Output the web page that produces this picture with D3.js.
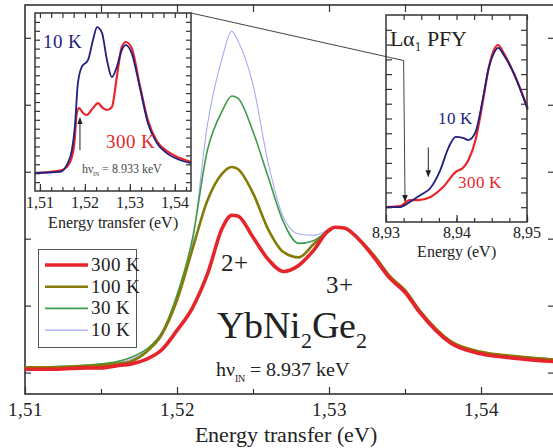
<!DOCTYPE html>
<html>
<head>
<meta charset="utf-8">
<script src="https://cdn.jsdelivr.net/npm/d3@7"></script>
<style>
  @font-face { font-family: "ChartSerif"; src: local("Liberation Serif"), local("LiberationSerif"), local("LiberationSerif-Regular"); }
  body { margin: 0; }
</style>
</head>
<body>
<script>
// main RIXS spectra (energy transfer in eV, intensity in arb. units)
var energy = [1.510, 1.512, 1.514, 1.515, 1.516, 1.517, 1.518, 1.519, 1.520, 1.521, 1.522, 1.523, 1.5236, 1.524, 1.525, 1.526, 1.527, 1.528, 1.529, 1.530, 1.5304, 1.531, 1.532, 1.533, 1.534, 1.535, 1.536, 1.538, 1.540, 1.542, 1.545];
var i300 = [0.05, 0.05, 0.07, 0.07, 0.10, 0.13, 0.20, 0.34, 0.63, 0.96, 1.47, 2.17, 2.35, 2.34, 2.02, 1.69, 1.51, 1.60, 1.83, 2.13, 2.17, 2.16, 1.98, 1.71, 1.41, 1.20, 0.89, 0.44, 0.28, 0.22, 0.16];
var i100 = [0.08, 0.08, 0.10, 0.11, 0.13, 0.17, 0.31, 0.57, 1.08, 1.83, 2.57, 2.98, 3.07, 3.04, 2.68, 2.14, 1.80, 1.72, 1.92, 2.11, 2.17, 2.16, 1.99, 1.74, 1.44, 1.23, 0.92, 0.47, 0.31, 0.25, 0.19];
var i30 = [0.08, 0.09, 0.11, 0.13, 0.16, 0.23, 0.35, 0.60, 1.16, 1.98, 3.32, 3.92, 4.13, 4.10, 3.60, 2.92, 2.25, 1.93, 1.97, 2.13, 2.17, 2.16, 1.99, 1.74, 1.44, 1.23, 0.92, 0.47, 0.31, 0.25, 0.20];
var i10 = [0.08, 0.09, 0.10, 0.12, 0.14, 0.20, 0.32, 0.54, 1.10, 1.90, 3.70, 4.72, 5.10, 4.96, 4.30, 3.13, 2.32, 2.07, 2.05, 2.14, 2.17, 2.16, 1.99, 1.74, 1.44, 1.23, 0.92, 0.47, 0.31, 0.25, 0.20];
var seriesNames = ["300 K", "100 K", "30 K", "10 K"];
var xTicks = [1.51, 1.52, 1.53, 1.54];
var yTicks = [0, 1, 2, 3, 4, 5];

// left inset (hv = 8.933 keV)
var inA_e10 = [1.5089, 1.5144, 1.5162, 1.5171, 1.5178, 1.5184, 1.5193, 1.5207, 1.5218, 1.5227, 1.5238, 1.5249, 1.5260, 1.5271, 1.5282, 1.5291, 1.5304, 1.5322, 1.5340, 1.5360, 1.5382, 1.5411, 1.5436];
var inA_i10 = [0.101, 0.107, 0.157, 0.230, 0.371, 0.596, 0.697, 0.736, 0.848, 0.921, 0.888, 0.736, 0.640, 0.697, 0.792, 0.820, 0.775, 0.584, 0.382, 0.270, 0.213, 0.174, 0.157];
var inA_e300 = [1.5089, 1.5149, 1.5167, 1.5176, 1.5182, 1.5187, 1.5196, 1.5204, 1.5218, 1.5229, 1.5240, 1.5249, 1.5260, 1.5271, 1.5282, 1.5291, 1.5304, 1.5322, 1.5340, 1.5360, 1.5382, 1.5411, 1.5436];
var inA_i300 = [0.101, 0.118, 0.163, 0.258, 0.438, 0.466, 0.438, 0.427, 0.466, 0.494, 0.466, 0.455, 0.472, 0.640, 0.809, 0.837, 0.803, 0.596, 0.399, 0.281, 0.225, 0.185, 0.163];
var inA_ticks = [1.51, 1.52, 1.53, 1.54];

// right inset (L alpha1 PFY)
var inB_e10 = [8.9300, 8.9320, 8.9334, 8.9349, 8.9363, 8.9377, 8.9389, 8.9399, 8.9409, 8.9417, 8.9427, 8.9437, 8.9446, 8.9453, 8.9459, 8.9467, 8.9481, 8.9501];
var inB_i10 = [0.072, 0.072, 0.097, 0.130, 0.164, 0.251, 0.362, 0.411, 0.406, 0.396, 0.435, 0.589, 0.749, 0.816, 0.841, 0.807, 0.720, 0.541];
var inB_e300 = [8.9300, 8.9320, 8.9334, 8.9346, 8.9363, 8.9381, 8.9399, 8.9409, 8.9417, 8.9427, 8.9437, 8.9446, 8.9453, 8.9459, 8.9467, 8.9481, 8.9501];
var inB_i300 = [0.072, 0.077, 0.106, 0.106, 0.121, 0.169, 0.242, 0.261, 0.300, 0.396, 0.575, 0.749, 0.831, 0.855, 0.816, 0.720, 0.551];
var inB_ticks = [8.93, 8.94, 8.95];

var width = 553, height = 448;
var face = 'ChartSerif, Liberation Serif, serif';
var ink = '#222';
var commaFmt = function(p) {
  return function(d) { return d3.format(p)(d).replace(".", ","); };
};

var svg = d3.select('body')
  .append('svg')
  .attr('width', width)
  .attr('height', height);

// every label gets its own font settings
function label(parent, xp, yp, size, str) {
  var t = parent.append('text')
    .attr('x', xp).attr('y', yp)
    .attr('font-family', face)
    .attr('font-size', size)
    .style('font-family', face)
    .attr('fill', ink);
  if (str) t.text(str);
  return t;
}

var defs = svg.append('defs');
defs.append('clipPath').attr('id', 'mainclip')
  .append('rect').attr('x', 25).attr('y', 5).attr('width', 532).attr('height', 389);
defs.append('marker')
  .attr('id', 'arrow')
  .attr('viewBox', '0 0 10 10')
  .attr('refX', 9).attr('refY', 5)
  .attr('markerWidth', 7).attr('markerHeight', 7)
  .attr('orient', 'auto')
  .append('path').attr('d', 'M0,1 L10,5 L0,9 z').attr('fill', ink);

// ---------- main panel ----------
var x = d3.scaleLinear().domain([1.51, 1.545]).range([25, 557]);
var y = d3.scaleLinear().domain([-0.32, 5.49]).range([394, 5]);

// axes draw only tick marks; labels are plain text from the same scale
function tickMarks(g) {
  g.attr('font-family', null).attr('font-size', null);
  g.select('.domain').remove();
  g.selectAll('.tick text').remove();
  g.selectAll('.tick line').attr('stroke', '#333').attr('stroke-width', 1.2);
}
function tickLabels(parent, scale, values, yp, size) {
  values.forEach(function(v) {
    label(parent, scale(v), yp, size, commaFmt('.2f')(v)).attr('text-anchor', 'middle');
  });
}

svg.append('g')
  .attr('transform', 'translate(0,394)')
  .call(d3.axisBottom(x).tickValues(xTicks).tickSizeInner(-7).tickSizeOuter(0))
  .call(tickMarks);
tickLabels(svg, x, xTicks, 416, 19);
svg.append('g')
  .attr('transform', 'translate(0,394)')
  .call(d3.axisBottom(x).tickValues([1.515, 1.525, 1.535]).tickSizeInner(-5).tickSizeOuter(0))
  .call(tickMarks);
svg.append('g')
  .attr('transform', 'translate(0,5)')
  .call(d3.axisTop(x).tickValues([1.515, 1.52, 1.525, 1.53, 1.535, 1.54]).tickSizeInner(-7).tickSizeOuter(0))
  .call(tickMarks);
svg.append('g')
  .attr('transform', 'translate(25,0)')
  .call(d3.axisLeft(y).tickValues(yTicks).tickSizeInner(-6).tickSizeOuter(0))
  .call(tickMarks);
svg.append('g')
  .attr('transform', 'translate(557,0)')
  .call(d3.axisRight(y).tickValues(yTicks).tickSizeInner(-9).tickSizeOuter(0))
  .call(tickMarks);

svg.append('rect')
  .attr('x', 25).attr('y', 5).attr('width', 532).attr('height', 389)
  .attr('fill', 'none').attr('stroke', '#333').attr('stroke-width', 1.6);

var colors = ['#e6242b', '#857a05', '#3f9a4a', '#a9a9f5'];
var widths = [3.6, 2.6, 1.6, 1.1];
var series = [i300, i100, i30, i10];

var line = d3.line()
  .x(function(d) { return x(d[0]); })
  .y(function(d) { return y(d[1]); })
  .curve(d3.curveMonotoneX);

var curves = svg.append('g').attr('clip-path', 'url(#mainclip)');
for (var k = series.length - 1; k >= 0; k--) {
  curves.append('path')
    .datum(d3.zip(energy, series[k]))
    .attr('d', line)
    .attr('fill', 'none')
    .attr('stroke', colors[k])
    .attr('stroke-width', widths[k])
    .attr('stroke-linejoin', 'round');
}

// legend
svg.append('rect').attr('x', 38.5).attr('y', 249.5).attr('width', 98).attr('height', 98)
  .attr('fill', '#fff').attr('stroke', '#555').attr('stroke-width', 1);
seriesNames.forEach(function(name, k) {
  var ly = 265 + k * 21.7;
  svg.append('line').attr('x1', 45).attr('x2', 88).attr('y1', ly).attr('y2', ly)
    .attr('stroke', colors[k]).attr('stroke-width', widths[k]);
  label(svg, 91, ly + 6, 19, name);
});

// annotations
label(svg, 221, 271, 25, '2+');
label(svg, 326, 293, 25, '3+');
var formula = label(svg, 217, 338, 38);
formula.append('tspan').text('YbNi');
formula.append('tspan').attr('dy', 10).attr('font-size', 22).text('2');
formula.append('tspan').attr('dy', -10).text('Ge');
formula.append('tspan').attr('dy', 10).attr('font-size', 22).text('2');
var hv = label(svg, 216, 376, 20);
hv.append('tspan').text('h\u03bd');
hv.append('tspan').attr('dy', 6).attr('font-size', 10).text('IN');
hv.append('tspan').attr('dy', -6).text(' = 8.937 keV');

label(svg, 286, 442, 22, 'Energy transfer (eV)').attr('text-anchor', 'middle');

// ---------- left inset ----------
var xa = d3.scaleLinear().domain([1.5089, 1.5436]).range([35, 191]);
var ya = d3.scaleLinear().domain([0, 1]).range([191, 13]);
var insetA = svg.append('g');
insetA.append('rect').attr('x', 35).attr('y', 13).attr('width', 156).attr('height', 178)
  .attr('fill', '#fff');
var minorA = d3.range(1.51, 1.5436, 0.0025);
insetA.append('g').attr('transform', 'translate(0,191)')
  .call(d3.axisBottom(xa).tickValues(inA_ticks).tickSizeInner(-7).tickSizeOuter(0))
  .call(tickMarks);
tickLabels(insetA, xa, inA_ticks, 208, 16);
insetA.append('g').attr('transform', 'translate(0,191)')
  .call(d3.axisBottom(xa).tickValues(minorA).tickSizeInner(-4).tickSizeOuter(0))
  .call(tickMarks);
insetA.append('g').attr('transform', 'translate(0,13)')
  .call(d3.axisTop(xa).tickValues(minorA).tickSizeInner(-5).tickSizeOuter(0))
  .call(tickMarks);
var yMinorA = d3.range(0.05, 1.0, 0.05);
insetA.append('g').attr('transform', 'translate(35,0)')
  .call(d3.axisLeft(ya).tickValues(yMinorA).tickSizeInner(-5).tickSizeOuter(0))
  .call(tickMarks);
insetA.append('g').attr('transform', 'translate(191,0)')
  .call(d3.axisRight(ya).tickValues(yMinorA).tickSizeInner(-5).tickSizeOuter(0))
  .call(tickMarks);

var lineA = d3.line()
  .x(function(d) { return xa(d[0]); })
  .y(function(d) { return ya(d[1]); })
  .curve(d3.curveMonotoneX);
insetA.append('path').datum(d3.zip(inA_e300, inA_i300)).attr('d', lineA)
  .attr('fill', 'none').attr('stroke', '#e8262c').attr('stroke-width', 2.2);
insetA.append('path').datum(d3.zip(inA_e10, inA_i10)).attr('d', lineA)
  .attr('fill', 'none').attr('stroke', '#1f1f80').attr('stroke-width', 1.8);
insetA.append('rect').attr('x', 35).attr('y', 13).attr('width', 156).attr('height', 178)
  .attr('fill', 'none').attr('stroke', '#333').attr('stroke-width', 1.5);

label(insetA, 43, 48, 19, '10 K').attr('fill', '#23237e');
label(insetA, 106, 148, 19, '300 K').attr('fill', '#e8262c');
var hvA = label(insetA, 82, 173, 12).attr('fill', '#444');
hvA.append('tspan').text('h\u03bd');
hvA.append('tspan').attr('dy', 3).attr('font-size', 6).text('IN');
hvA.append('tspan').attr('dy', -3).text(' = 8.933 keV');
insetA.append('line')
  .attr('x1', xa(1.5189)).attr('x2', xa(1.5189))
  .attr('y1', ya(0.23)).attr('y2', ya(0.41))
  .attr('stroke', ink).attr('stroke-width', 1).attr('marker-end', 'url(#arrow)');
label(insetA, 113, 228, 16, 'Energy transfer (eV)').attr('text-anchor', 'middle');

// ---------- right inset ----------
var xb = d3.scaleLinear().domain([8.93, 8.95]).range([386, 527]);
var yb = d3.scaleLinear().domain([0, 1]).range([222, 15]);
var insetB = svg.append('g');
insetB.append('rect').attr('x', 386).attr('y', 15).attr('width', 141).attr('height', 207)
  .attr('fill', '#fff');
var minorB = d3.range(8.9325, 8.95, 0.0025);
insetB.append('g').attr('transform', 'translate(0,222)')
  .call(d3.axisBottom(xb).tickValues(inB_ticks).tickSizeInner(-7).tickSizeOuter(0))
  .call(tickMarks);
tickLabels(svg, xb, inB_ticks, 238, 16);
insetB.append('g').attr('transform', 'translate(0,222)')
  .call(d3.axisBottom(xb).tickValues(minorB).tickSizeInner(-4).tickSizeOuter(0))
  .call(tickMarks);
insetB.append('g').attr('transform', 'translate(0,15)')
  .call(d3.axisTop(xb).tickValues(minorB).tickSizeInner(-5).tickSizeOuter(0))
  .call(tickMarks);
var yMinorB = d3.range(1, 14).map(function(k) { return k / 14; });
insetB.append('g').attr('transform', 'translate(386,0)')
  .call(d3.axisLeft(yb).tickValues(yMinorB).tickSizeInner(-6).tickSizeOuter(0))
  .call(tickMarks);
insetB.append('g').attr('transform', 'translate(527,0)')
  .call(d3.axisRight(yb).tickValues(yMinorB).tickSizeInner(-6).tickSizeOuter(0))
  .call(tickMarks);

var lineB = d3.line()
  .x(function(d) { return xb(d[0]); })
  .y(function(d) { return yb(d[1]); })
  .curve(d3.curveMonotoneX);
insetB.append('path').datum(d3.zip(inB_e300, inB_i300)).attr('d', lineB)
  .attr('fill', 'none').attr('stroke', '#e8262c').attr('stroke-width', 2.2);
insetB.append('path').datum(d3.zip(inB_e10, inB_i10)).attr('d', lineB)
  .attr('fill', 'none').attr('stroke', '#1f1f80').attr('stroke-width', 1.8);
insetB.append('rect').attr('x', 386).attr('y', 15).attr('width', 141).attr('height', 207)
  .attr('fill', 'none').attr('stroke', '#333').attr('stroke-width', 1.5);

var la = label(insetB, 390, 46, 22);
la.append('tspan').text('L\u03b1');
la.append('tspan').attr('dy', 5).attr('font-size', 12).text('1');
la.append('tspan').attr('dy', -5).text(' PFY');
label(insetB, 438, 124, 17, '10 K').attr('fill', '#23237e');
label(insetB, 458, 188, 17, '300 K').attr('fill', '#e8262c');
insetB.append('line')
  .attr('x1', xb(8.936)).attr('x2', xb(8.936))
  .attr('y1', yb(0.36)).attr('y2', yb(0.22))
  .attr('stroke', ink).attr('stroke-width', 1).attr('marker-end', 'url(#arrow)');
label(insetB, 456, 257, 16, 'Energy (eV)').attr('text-anchor', 'middle');

// connector from left inset to the PFY edge
svg.append('path')
  .attr('d', 'M' + xa.range()[1] + ',' + ya.range()[1] +
    ' L' + xb(8.9325) + ',' + yb(0.78) +
    ' L' + xb(8.9327) + ',' + yb(0.1))
  .attr('fill', 'none').attr('stroke', '#444').attr('stroke-width', 1)
  .attr('marker-end', 'url(#arrow)');
</script>
</body>
</html>
